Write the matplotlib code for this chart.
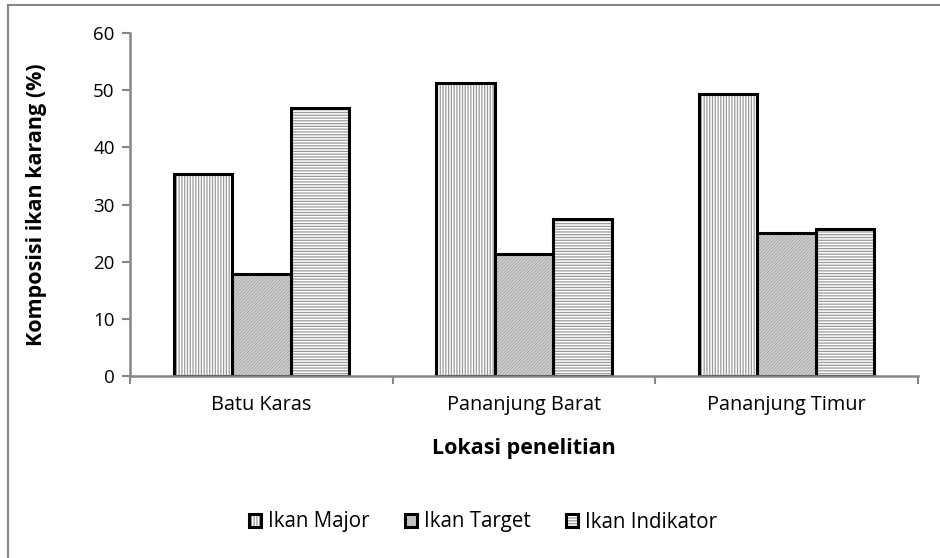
import matplotlib
matplotlib.use("Agg")
import matplotlib.pyplot as plt
import numpy as np
from matplotlib.patches import Rectangle, Patch
from matplotlib.legend_handler import HandlerTuple

categories = ["Batu Karas", "Pananjung Barat", "Pananjung Timur"]
series_names = ["Ikan Major", "Ikan Target", "Ikan Indikator"]
ikan_major = [35.4, 51.2, 49.3]
ikan_target = [17.8, 21.4, 25.0]
ikan_indikator = [46.8, 27.4, 25.7]
yticks = [0, 10, 20, 30, 40, 50, 60]

plt.rcParams['font.family'] = ['Open Sans', 'DejaVu Sans']
plt.rcParams['hatch.linewidth'] = 0.9

GREY = '#868686'
styles = [
    dict(face='white', hatch='||||||', hcol='#9a9a9a'),
    dict(face='#d4d4d4', hatch='//////////', hcol='#b0b0b0'),
    dict(face='white', hatch='------', hcol='#9a9a9a'),
]

fig = plt.figure(figsize=(9.4, 5.58), dpi=100)
ax = fig.add_axes([130/940, 1-376/558, (918-130)/940, (376-33)/558])

x = np.arange(len(categories))
w = 1/4.5
data = [ikan_major, ikan_target, ikan_indikator]
handles = []
for i, (vals, st) in enumerate(zip(data, styles)):
    pos = x + (i-1)*w
    ax.bar(pos, vals, w, color=st['face'], edgecolor=st['hcol'], hatch=st['hatch'], linewidth=0, zorder=2)
    ax.bar(pos, vals, w, fill=False, edgecolor='black', linewidth=2.2, zorder=3)
    h1 = Patch(facecolor=st['face'], edgecolor=st['hcol'], hatch=st['hatch'], linewidth=0)
    h2 = Patch(fill=False, edgecolor='black', linewidth=2.2)
    handles.append((h1, h2))

ax.set_xlim(-0.5, 2.5)
ax.set_ylim(0, 60)
ax.set_yticks(yticks)
ax.set_xticks(x)
ax.set_xticklabels(categories)
ax.set_xticks([-0.5, 0.5, 1.5, 2.5], minor=True)
ax.tick_params(axis='x', which='major', length=0, pad=14, labelsize=14.3)
ax.tick_params(axis='x', which='minor', length=6, width=1.5, color=GREY, direction='out')
ax.tick_params(axis='y', length=6, width=1.5, color=GREY, direction='out', labelsize=13.5, pad=5)
for s in ['top', 'right']:
    ax.spines[s].set_visible(False)
for s in ['left', 'bottom']:
    ax.spines[s].set_color(GREY)
    ax.spines[s].set_linewidth(1.8)
ax.spines['bottom'].set_zorder(4)

ax.set_ylabel("Komposisi ikan karang (%)", fontsize=15.5, fontweight='bold')
ax.yaxis.set_label_coords((47-130)/788, 0.5)
ax.set_xlabel("Lokasi penelitian", fontsize=15.5, fontweight='bold')
ax.xaxis.set_label_coords(0.5, (376-438)/343)

fig.legend(handles, series_names, loc='center', bbox_to_anchor=(483/940, 1-522/558),
           ncol=3, frameon=False, fontsize=14.8, handlelength=0.6, handleheight=0.6,
           handletextpad=0.35, columnspacing=1.7,
           handler_map={tuple: HandlerTuple(ndivide=1, pad=0)})

fig.add_artist(Rectangle((8/940, -0.1), 1.2, 1-5/558+0.1, transform=fig.transFigure,
                         fill=False, edgecolor=GREY, linewidth=1.5))

fig.savefig("out.png", dpi=100)
